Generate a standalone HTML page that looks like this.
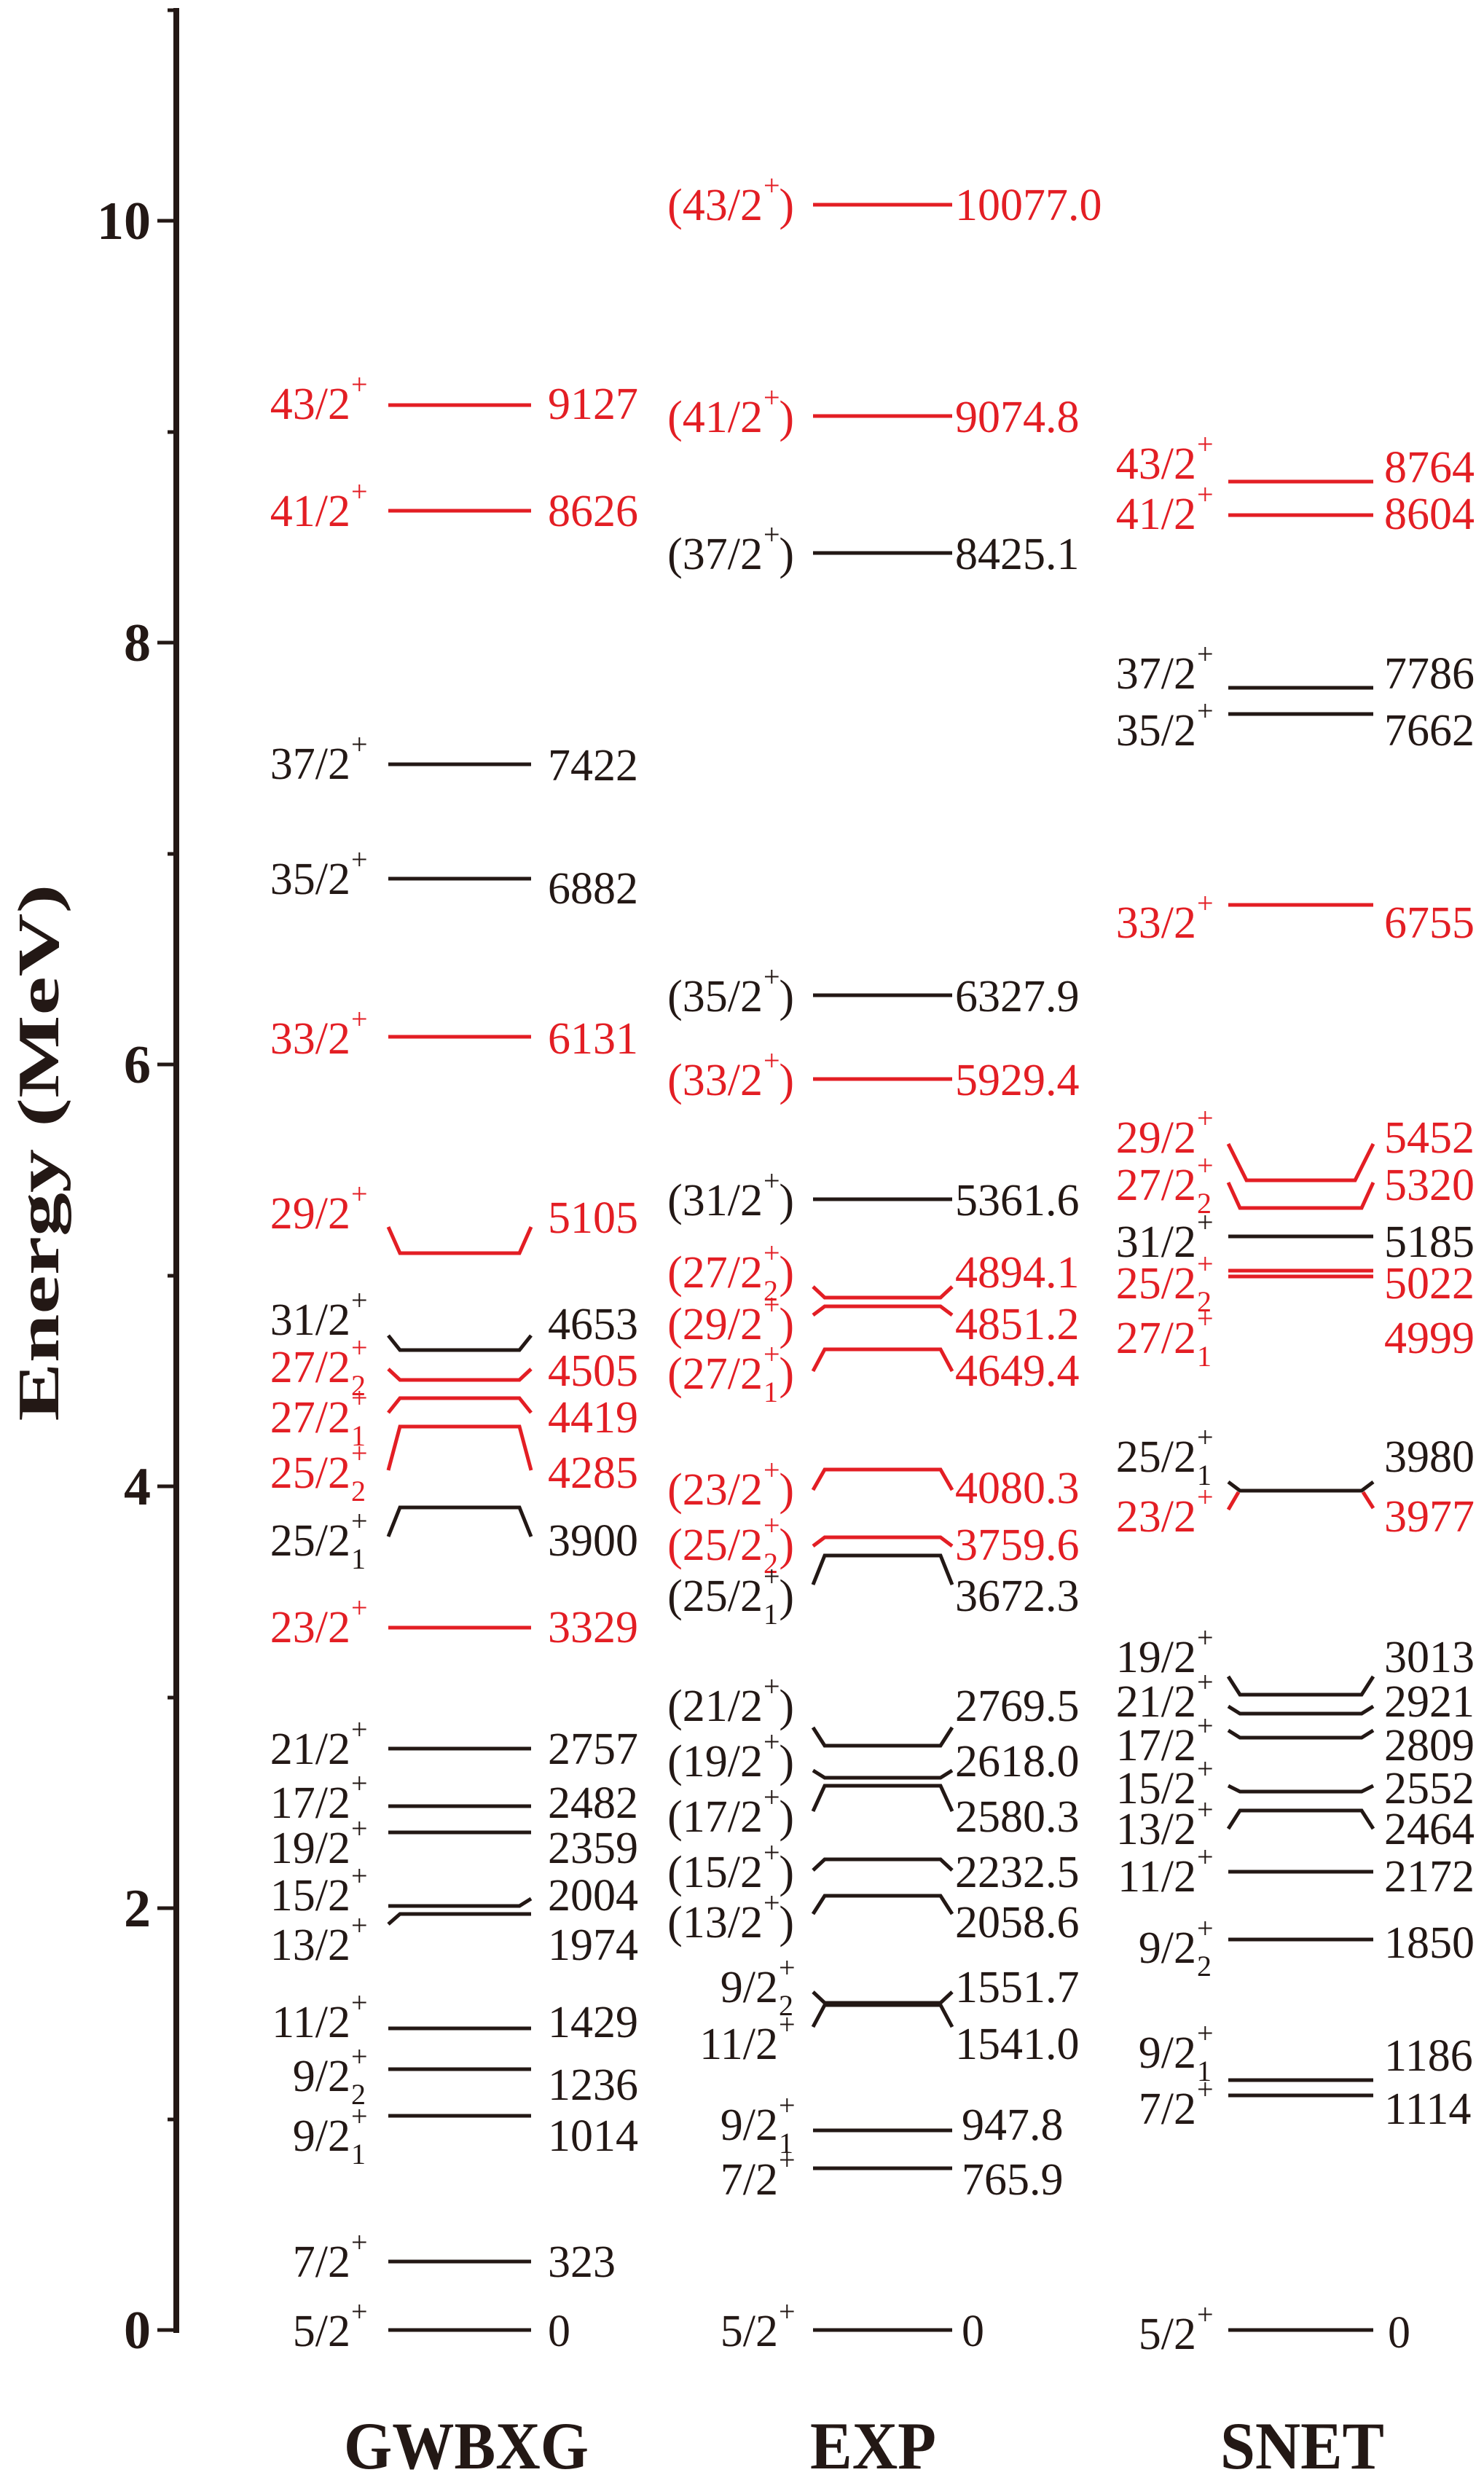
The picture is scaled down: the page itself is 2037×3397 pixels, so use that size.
<!DOCTYPE html>
<html><head><meta charset="utf-8"><style>
html,body{margin:0;padding:0;background:#fff}
svg{display:block}
.m{font-family:"Liberation Serif",serif;font-size:62px}
.s{font-family:"Liberation Serif",serif;font-size:40px}
.r{fill:#e31e24}.k{fill:#231815}
.lr{stroke:#e31e24;stroke-width:5;fill:none}
.lk{stroke:#231815;stroke-width:5;fill:none}
.b{font-family:"Liberation Serif",serif;font-weight:bold;fill:#231815}
</style></head><body>
<svg width="2037" height="3397" viewBox="0 0 2037 3397" xmlns="http://www.w3.org/2000/svg">
<!-- axis -->
<line x1="242" y1="11" x2="242" y2="3202" stroke="#231815" stroke-width="8"/>
<g stroke="#231815" stroke-width="5">
<line x1="216" y1="3198" x2="242" y2="3198"/><line x1="216" y1="2619" x2="242" y2="2619"/><line x1="216" y1="2040" x2="242" y2="2040"/><line x1="216" y1="1461" x2="242" y2="1461"/><line x1="216" y1="882" x2="242" y2="882"/><line x1="216" y1="303" x2="242" y2="303"/>
<line x1="230" y1="2909" x2="242" y2="2909"/><line x1="230" y1="2330" x2="242" y2="2330"/><line x1="230" y1="1751" x2="242" y2="1751"/><line x1="230" y1="1172" x2="242" y2="1172"/><line x1="230" y1="593" x2="242" y2="593"/><line x1="230" y1="14" x2="242" y2="14"/>
</g>
<g class="b" font-size="74" text-anchor="end">
<text x="207" y="3223">0</text><text x="207" y="2644">2</text><text x="207" y="2065">4</text><text x="207" y="1486">6</text><text x="207" y="907">8</text><text x="207" y="328">10</text>
</g>
<text class="b" font-size="80" transform="translate(80,1582) rotate(-90)" text-anchor="middle" textLength="737" lengthAdjust="spacingAndGlyphs">Energy (MeV)</text>
<g class="b" font-size="92">
<text x="472" y="3388" textLength="336" lengthAdjust="spacingAndGlyphs">GWBXG</text>
<text x="1112" y="3388" textLength="173" lengthAdjust="spacingAndGlyphs">EXP</text>
<text x="1675" y="3388" textLength="225" lengthAdjust="spacingAndGlyphs">SNET</text>
</g>

<!-- GWBXG levels -->
<polyline class="lr" points="533,556 729,556"/>
<polyline class="lr" points="533,701 729,701"/>
<polyline class="lk" points="533,1049 729,1049"/>
<polyline class="lk" points="533,1206 729,1206"/>
<polyline class="lr" points="533,1423 729,1423"/>
<polyline class="lr" points="533,1684 549,1720 713,1720 729,1684"/>
<polyline class="lk" points="533,1833 549,1853 713,1853 729,1833"/>
<polyline class="lr" points="533,1879 549,1894 713,1894 729,1879"/>
<polyline class="lr" points="533,1939 549,1919 713,1919 729,1939"/>
<polyline class="lr" points="533,2018 549,1958 713,1958 729,2018"/>
<polyline class="lk" points="533,2109 549,2069 713,2069 729,2109"/>
<polyline class="lr" points="533,2234 729,2234"/>
<polyline class="lk" points="533,2400 729,2400"/>
<polyline class="lk" points="533,2479 729,2479"/>
<polyline class="lk" points="533,2515 729,2515"/>
<polyline class="lk" points="533,2616 713,2616 729,2606"/>
<polyline class="lk" points="533,2641 549,2627 729,2627"/>
<polyline class="lk" points="533,2784 729,2784"/>
<polyline class="lk" points="533,2840 729,2840"/>
<polyline class="lk" points="533,2904 729,2904"/>
<polyline class="lk" points="533,3104 729,3104"/>
<polyline class="lk" points="533,3198 729,3198"/>

<!-- GWBXG left labels -->
<g class="r"><g transform="translate(503,553)"><text class="m" x="-22" y="22" text-anchor="end">43/2</text><text class="s" x="-21" y="-12">+</text></g></g>
<g class="r"><g transform="translate(503,700)"><text class="m" x="-22" y="22" text-anchor="end">41/2</text><text class="s" x="-21" y="-12">+</text></g></g>
<g class="k"><g transform="translate(503,1047)"><text class="m" x="-22" y="22" text-anchor="end">37/2</text><text class="s" x="-21" y="-12">+</text></g></g>
<g class="k"><g transform="translate(503,1205)"><text class="m" x="-22" y="22" text-anchor="end">35/2</text><text class="s" x="-21" y="-12">+</text></g></g>
<g class="r"><g transform="translate(503,1424)"><text class="m" x="-22" y="22" text-anchor="end">33/2</text><text class="s" x="-21" y="-12">+</text></g></g>
<g class="r"><g transform="translate(503,1664)"><text class="m" x="-22" y="22" text-anchor="end">29/2</text><text class="s" x="-21" y="-12">+</text></g></g>
<g class="k"><g transform="translate(503,1810)"><text class="m" x="-22" y="22" text-anchor="end">31/2</text><text class="s" x="-21" y="-12">+</text></g></g>
<g class="r"><g transform="translate(503,1875)"><text class="m" x="-22" y="22" text-anchor="end">27/2</text><text class="s" x="-21" y="-12">+</text><text class="s" x="-21" y="40">2</text></g></g>
<g class="r"><g transform="translate(503,1944)"><text class="m" x="-22" y="22" text-anchor="end">27/2</text><text class="s" x="-21" y="-12">+</text><text class="s" x="-21" y="40">1</text></g></g>
<g class="r"><g transform="translate(503,2020)"><text class="m" x="-22" y="22" text-anchor="end">25/2</text><text class="s" x="-21" y="-12">+</text><text class="s" x="-21" y="40">2</text></g></g>
<g class="k"><g transform="translate(503,2113)"><text class="m" x="-22" y="22" text-anchor="end">25/2</text><text class="s" x="-21" y="-12">+</text><text class="s" x="-21" y="40">1</text></g></g>
<g class="r"><g transform="translate(503,2232)"><text class="m" x="-22" y="22" text-anchor="end">23/2</text><text class="s" x="-21" y="-12">+</text></g></g>
<g class="k">
<g transform="translate(503,2399)"><text class="m" x="-22" y="22" text-anchor="end">21/2</text><text class="s" x="-21" y="-12">+</text></g>
<g transform="translate(503,2473)"><text class="m" x="-22" y="22" text-anchor="end">17/2</text><text class="s" x="-21" y="-12">+</text></g>
<g transform="translate(503,2535)"><text class="m" x="-22" y="22" text-anchor="end">19/2</text><text class="s" x="-21" y="-12">+</text></g>
<g transform="translate(503,2600)"><text class="m" x="-22" y="22" text-anchor="end">15/2</text><text class="s" x="-21" y="-12">+</text></g>
<g transform="translate(503,2668)"><text class="m" x="-22" y="22" text-anchor="end">13/2</text><text class="s" x="-21" y="-12">+</text></g>
<g transform="translate(503,2774)"><text class="m" x="-22" y="22" text-anchor="end">11/2</text><text class="s" x="-21" y="-12">+</text></g>
<g transform="translate(503,2848)"><text class="m" x="-22" y="22" text-anchor="end">9/2</text><text class="s" x="-21" y="-12">+</text><text class="s" x="-21" y="40">2</text></g>
<g transform="translate(503,2930)"><text class="m" x="-22" y="22" text-anchor="end">9/2</text><text class="s" x="-21" y="-12">+</text><text class="s" x="-21" y="40">1</text></g>
<g transform="translate(503,3103)"><text class="m" x="-22" y="22" text-anchor="end">7/2</text><text class="s" x="-21" y="-12">+</text></g>
<g transform="translate(503,3198)"><text class="m" x="-22" y="22" text-anchor="end">5/2</text><text class="s" x="-21" y="-12">+</text></g>
</g>
<!-- GWBXG values -->
<g class="m">
<text class="r" x="752" y="575">9127</text><text class="r" x="752" y="722">8626</text>
<text class="k" x="752" y="1071">7422</text><text class="k" x="752" y="1240">6882</text>
<text class="r" x="752" y="1446">6131</text><text class="r" x="752" y="1692">5105</text>
<text class="k" x="752" y="1838">4653</text><text class="r" x="752" y="1902">4505</text>
<text class="r" x="752" y="1966">4419</text><text class="r" x="752" y="2042">4285</text>
<text class="k" x="752" y="2135">3900</text><text class="r" x="752" y="2254">3329</text>
<text class="k" x="752" y="2421">2757</text><text class="k" x="752" y="2495">2482</text>
<text class="k" x="752" y="2557">2359</text><text class="k" x="752" y="2622">2004</text>
<text class="k" x="752" y="2690">1974</text><text class="k" x="752" y="2796">1429</text>
<text class="k" x="752" y="2882">1236</text><text class="k" x="752" y="2952">1014</text>
<text class="k" x="752" y="3125">323</text><text class="k" x="752" y="3220">0</text>
</g>

<!-- EXP levels -->
<polyline class="lr" points="1116,281 1307,281"/>
<polyline class="lr" points="1116,571 1307,571"/>
<polyline class="lk" points="1116,759 1307,759"/>
<polyline class="lk" points="1116,1366 1307,1366"/>
<polyline class="lr" points="1116,1481 1307,1481"/>
<polyline class="lk" points="1116,1646 1307,1646"/>
<polyline class="lr" points="1116,1766 1132,1781 1291,1781 1307,1766"/>
<polyline class="lr" points="1116,1805 1132,1793 1291,1793 1307,1805"/>
<polyline class="lr" points="1116,1882 1132,1852 1291,1852 1307,1882"/>
<polyline class="lr" points="1116,2045 1132,2017 1291,2017 1307,2045"/>
<polyline class="lr" points="1116,2122 1132,2110 1291,2110 1307,2122"/>
<polyline class="lk" points="1116,2175 1132,2135 1291,2135 1307,2175"/>
<polyline class="lk" points="1116,2371 1132,2396 1291,2396 1307,2371"/>
<polyline class="lk" points="1116,2430 1132,2440 1291,2440 1307,2430"/>
<polyline class="lk" points="1116,2486 1132,2451 1291,2451 1307,2486"/>
<polyline class="lk" points="1116,2567 1132,2552 1291,2552 1307,2567"/>
<polyline class="lk" points="1116,2627 1132,2602 1291,2602 1307,2627"/>
<polyline class="lk" points="1116,2734 1132,2749 1291,2749 1307,2734"/>
<polyline class="lk" points="1116,2782 1132,2752 1291,2752 1307,2782"/>
<polyline class="lk" points="1116,2924 1307,2924"/>
<polyline class="lk" points="1116,2976 1307,2976"/>
<polyline class="lk" points="1116,3198 1307,3198"/>

<!-- EXP left labels -->
<g class="r">
<g transform="translate(1090,280)"><text class="m" x="0" y="22" text-anchor="end">)</text><text class="m" x="-43" y="22" text-anchor="end">(43/2</text><text class="s" x="-42" y="-12">+</text></g>
<g transform="translate(1090,571)"><text class="m" x="0" y="22" text-anchor="end">)</text><text class="m" x="-43" y="22" text-anchor="end">(41/2</text><text class="s" x="-42" y="-12">+</text></g>
<g transform="translate(1090,1481)"><text class="m" x="0" y="22" text-anchor="end">)</text><text class="m" x="-43" y="22" text-anchor="end">(33/2</text><text class="s" x="-42" y="-12">+</text></g>
<g transform="translate(1090,1745)"><text class="m" x="0" y="22" text-anchor="end">)</text><text class="m" x="-43" y="22" text-anchor="end">(27/2</text><text class="s" x="-42" y="-12">+</text><text class="s" x="-42" y="40">2</text></g>
<g transform="translate(1090,1816)"><text class="m" x="0" y="22" text-anchor="end">)</text><text class="m" x="-43" y="22" text-anchor="end">(29/2</text><text class="s" x="-42" y="-12">+</text></g>
<g transform="translate(1090,1884)"><text class="m" x="0" y="22" text-anchor="end">)</text><text class="m" x="-43" y="22" text-anchor="end">(27/2</text><text class="s" x="-42" y="-12">+</text><text class="s" x="-42" y="40">1</text></g>
<g transform="translate(1090,2043)"><text class="m" x="0" y="22" text-anchor="end">)</text><text class="m" x="-43" y="22" text-anchor="end">(23/2</text><text class="s" x="-42" y="-12">+</text></g>
<g transform="translate(1090,2119)"><text class="m" x="0" y="22" text-anchor="end">)</text><text class="m" x="-43" y="22" text-anchor="end">(25/2</text><text class="s" x="-42" y="-12">+</text><text class="s" x="-42" y="40">2</text></g>
</g>
<g class="k">
<g transform="translate(1090,759)"><text class="m" x="0" y="22" text-anchor="end">)</text><text class="m" x="-43" y="22" text-anchor="end">(37/2</text><text class="s" x="-42" y="-12">+</text></g>
<g transform="translate(1090,1366)"><text class="m" x="0" y="22" text-anchor="end">)</text><text class="m" x="-43" y="22" text-anchor="end">(35/2</text><text class="s" x="-42" y="-12">+</text></g>
<g transform="translate(1090,1646)"><text class="m" x="0" y="22" text-anchor="end">)</text><text class="m" x="-43" y="22" text-anchor="end">(31/2</text><text class="s" x="-42" y="-12">+</text></g>
<g transform="translate(1090,2189)"><text class="m" x="0" y="22" text-anchor="end">)</text><text class="m" x="-43" y="22" text-anchor="end">(25/2</text><text class="s" x="-42" y="-12">+</text><text class="s" x="-42" y="40">1</text></g>
<g transform="translate(1090,2340)"><text class="m" x="0" y="22" text-anchor="end">)</text><text class="m" x="-43" y="22" text-anchor="end">(21/2</text><text class="s" x="-42" y="-12">+</text></g>
<g transform="translate(1090,2416)"><text class="m" x="0" y="22" text-anchor="end">)</text><text class="m" x="-43" y="22" text-anchor="end">(19/2</text><text class="s" x="-42" y="-12">+</text></g>
<g transform="translate(1090,2492)"><text class="m" x="0" y="22" text-anchor="end">)</text><text class="m" x="-43" y="22" text-anchor="end">(17/2</text><text class="s" x="-42" y="-12">+</text></g>
<g transform="translate(1090,2568)"><text class="m" x="0" y="22" text-anchor="end">)</text><text class="m" x="-43" y="22" text-anchor="end">(15/2</text><text class="s" x="-42" y="-12">+</text></g>
<g transform="translate(1090,2637)"><text class="m" x="0" y="22" text-anchor="end">)</text><text class="m" x="-43" y="22" text-anchor="end">(13/2</text><text class="s" x="-42" y="-12">+</text></g>
<g transform="translate(1090,2726)"><text class="m" x="-22" y="22" text-anchor="end">9/2</text><text class="s" x="-21" y="-12">+</text><text class="s" x="-21" y="40">2</text></g>
<g transform="translate(1090,2804)"><text class="m" x="-22" y="22" text-anchor="end">11/2</text><text class="s" x="-21" y="-12">+</text></g>
<g transform="translate(1090,2915)"><text class="m" x="-22" y="22" text-anchor="end">9/2</text><text class="s" x="-21" y="-12">+</text><text class="s" x="-21" y="40">1</text></g>
<g transform="translate(1090,2990)"><text class="m" x="-22" y="22" text-anchor="end">7/2</text><text class="s" x="-21" y="-12">+</text></g>
<g transform="translate(1090,3198)"><text class="m" x="-22" y="22" text-anchor="end">5/2</text><text class="s" x="-21" y="-12">+</text></g>
</g>
<!-- EXP values -->
<g class="m">
<text class="r" x="1311" y="302">10077.0</text><text class="r" x="1311" y="593">9074.8</text>
<text class="k" x="1311" y="781">8425.1</text><text class="k" x="1311" y="1388">6327.9</text>
<text class="r" x="1311" y="1503">5929.4</text><text class="k" x="1311" y="1668">5361.6</text>
<text class="r" x="1311" y="1767">4894.1</text><text class="r" x="1311" y="1838">4851.2</text>
<text class="r" x="1311" y="1902">4649.4</text><text class="r" x="1311" y="2063">4080.3</text>
<text class="r" x="1311" y="2141">3759.6</text><text class="k" x="1311" y="2211">3672.3</text>
<text class="k" x="1311" y="2362">2769.5</text><text class="k" x="1311" y="2438">2618.0</text>
<text class="k" x="1311" y="2514">2580.3</text><text class="k" x="1311" y="2590">2232.5</text>
<text class="k" x="1311" y="2659">2058.6</text><text class="k" x="1311" y="2748">1551.7</text>
<text class="k" x="1311" y="2826">1541.0</text><text class="k" x="1320" y="2937">947.8</text>
<text class="k" x="1320" y="3012">765.9</text><text class="k" x="1320" y="3220">0</text>
</g>

<!-- SNET levels -->
<polyline class="lr" points="1686,661 1885,661"/>
<polyline class="lr" points="1686,707 1885,707"/>
<polyline class="lk" points="1686,944 1885,944"/>
<polyline class="lk" points="1686,980 1885,980"/>
<polyline class="lr" points="1686,1242 1885,1242"/>
<polyline class="lr" points="1686,1570 1711,1620 1860,1620 1885,1570"/>
<polyline class="lr" points="1686,1623 1702,1658 1869,1658 1885,1623"/>
<polyline class="lk" points="1686,1697 1885,1697"/>
<polyline class="lr" points="1686,1744 1885,1744"/>
<polyline class="lr" points="1686,1752 1885,1752"/>
<polyline class="lr" points="1686,2072 1700,2048"/>
<polyline class="lr" points="1885,2070 1871,2048"/>
<polyline class="lk" points="1686,2034 1702,2046 1869,2046 1885,2034"/>
<polyline class="lk" points="1686,2301 1702,2326 1869,2326 1885,2301"/>
<polyline class="lk" points="1686,2342 1702,2352 1869,2352 1885,2342"/>
<polyline class="lk" points="1686,2375 1702,2385 1869,2385 1885,2375"/>
<polyline class="lk" points="1686,2451 1702,2459 1869,2459 1885,2451"/>
<polyline class="lk" points="1686,2510 1702,2485 1869,2485 1885,2510"/>
<polyline class="lk" points="1686,2569 1885,2569"/>
<polyline class="lk" points="1686,2662 1885,2662"/>
<polyline class="lk" points="1686,2855 1885,2855"/>
<polyline class="lk" points="1686,2876 1885,2876"/>
<polyline class="lk" points="1686,3198 1885,3198"/>

<!-- SNET left labels -->
<g class="r">
<g transform="translate(1664,635)"><text class="m" x="-22" y="22" text-anchor="end">43/2</text><text class="s" x="-21" y="-12">+</text></g>
<g transform="translate(1664,704)"><text class="m" x="-22" y="22" text-anchor="end">41/2</text><text class="s" x="-21" y="-12">+</text></g>
<g transform="translate(1664,1265)"><text class="m" x="-22" y="22" text-anchor="end">33/2</text><text class="s" x="-21" y="-12">+</text></g>
<g transform="translate(1664,1560)"><text class="m" x="-22" y="22" text-anchor="end">29/2</text><text class="s" x="-21" y="-12">+</text></g>
<g transform="translate(1664,1625)"><text class="m" x="-22" y="22" text-anchor="end">27/2</text><text class="s" x="-21" y="-12">+</text><text class="s" x="-21" y="40">2</text></g>
<g transform="translate(1664,1760)"><text class="m" x="-22" y="22" text-anchor="end">25/2</text><text class="s" x="-21" y="-12">+</text><text class="s" x="-21" y="40">2</text></g>
<g transform="translate(1664,1835)"><text class="m" x="-22" y="22" text-anchor="end">27/2</text><text class="s" x="-21" y="-12">+</text><text class="s" x="-21" y="40">1</text></g>
<g transform="translate(1664,2080)"><text class="m" x="-22" y="22" text-anchor="end">23/2</text><text class="s" x="-21" y="-12">+</text></g>
</g>
<g class="k">
<g transform="translate(1664,923)"><text class="m" x="-22" y="22" text-anchor="end">37/2</text><text class="s" x="-21" y="-12">+</text></g>
<g transform="translate(1664,1001)"><text class="m" x="-22" y="22" text-anchor="end">35/2</text><text class="s" x="-21" y="-12">+</text></g>
<g transform="translate(1664,1703)"><text class="m" x="-22" y="22" text-anchor="end">31/2</text><text class="s" x="-21" y="-12">+</text></g>
<g transform="translate(1664,1998)"><text class="m" x="-22" y="22" text-anchor="end">25/2</text><text class="s" x="-21" y="-12">+</text><text class="s" x="-21" y="40">1</text></g>
<g transform="translate(1664,2273)"><text class="m" x="-22" y="22" text-anchor="end">19/2</text><text class="s" x="-21" y="-12">+</text></g>
<g transform="translate(1664,2334)"><text class="m" x="-22" y="22" text-anchor="end">21/2</text><text class="s" x="-21" y="-12">+</text></g>
<g transform="translate(1664,2394)"><text class="m" x="-22" y="22" text-anchor="end">17/2</text><text class="s" x="-21" y="-12">+</text></g>
<g transform="translate(1664,2453)"><text class="m" x="-22" y="22" text-anchor="end">15/2</text><text class="s" x="-21" y="-12">+</text></g>
<g transform="translate(1664,2509)"><text class="m" x="-22" y="22" text-anchor="end">13/2</text><text class="s" x="-21" y="-12">+</text></g>
<g transform="translate(1664,2574)"><text class="m" x="-22" y="22" text-anchor="end">11/2</text><text class="s" x="-21" y="-12">+</text></g>
<g transform="translate(1664,2672)"><text class="m" x="-22" y="22" text-anchor="end">9/2</text><text class="s" x="-21" y="-12">+</text><text class="s" x="-21" y="40">2</text></g>
<g transform="translate(1664,2816)"><text class="m" x="-22" y="22" text-anchor="end">9/2</text><text class="s" x="-21" y="-12">+</text><text class="s" x="-21" y="40">1</text></g>
<g transform="translate(1664,2893)"><text class="m" x="-22" y="22" text-anchor="end">7/2</text><text class="s" x="-21" y="-12">+</text></g>
<g transform="translate(1664,3202)"><text class="m" x="-22" y="22" text-anchor="end">5/2</text><text class="s" x="-21" y="-12">+</text></g>
</g>
<!-- SNET values -->
<g class="m">
<text class="r" x="1900" y="662">8764</text><text class="r" x="1900" y="726">8604</text>
<text class="k" x="1900" y="945">7786</text><text class="k" x="1900" y="1023">7662</text>
<text class="r" x="1900" y="1287">6755</text><text class="r" x="1900" y="1582">5452</text>
<text class="r" x="1900" y="1647">5320</text><text class="k" x="1900" y="1725">5185</text>
<text class="r" x="1900" y="1782">5022</text><text class="r" x="1900" y="1857">4999</text>
<text class="k" x="1900" y="2020">3980</text><text class="r" x="1900" y="2102">3977</text>
<text class="k" x="1900" y="2295">3013</text><text class="k" x="1900" y="2356">2921</text>
<text class="k" x="1900" y="2416">2809</text><text class="k" x="1900" y="2475">2552</text>
<text class="k" x="1900" y="2531">2464</text><text class="k" x="1900" y="2596">2172</text>
<text class="k" x="1900" y="2687">1850</text><text class="k" x="1900" y="2842">1186</text>
<text class="k" x="1900" y="2915">1114</text><text class="k" x="1905" y="3222">0</text>
</g>
</svg>
</body></html>
